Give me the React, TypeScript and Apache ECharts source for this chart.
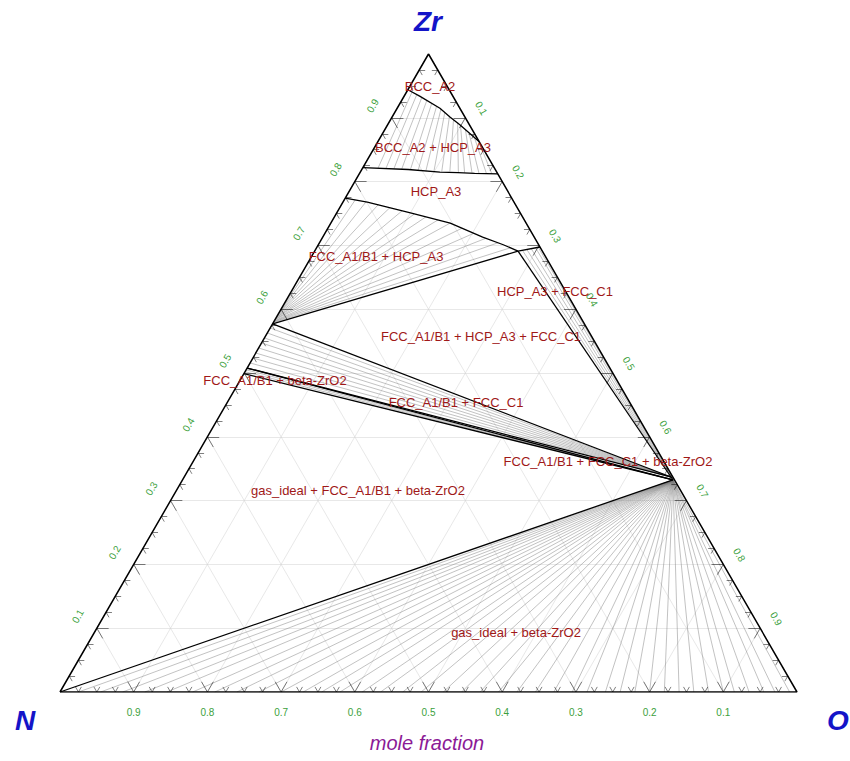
import React, { useEffect, useRef } from 'react';
import * as echarts from 'echarts';

// Ternary geometry: composition [x(O), x(Zr)] -> cartesian (N at origin, O at (1,0))
const SQ = Math.sqrt(3) / 2;
const toXY = (p: number[]): number[] => [p[0] + p[1] / 2, p[1] * SQ];

// Axis ticks (mole fraction)
const majorTicks = [0.1, 0.2, 0.3, 0.4, 0.5, 0.6, 0.7, 0.8, 0.9];
const tickLabels = ['0.1', '0.2', '0.3', '0.4', '0.5', '0.6', '0.7', '0.8', '0.9'];
const minorTickStep = 0.025;

// Phase boundaries, compositions [x(O), x(Zr)]
const bccBoundary = [
  [0, 0.944], [0.021, 0.934], [0.058, 0.915], [0.079, 0.901], [0.098, 0.889], [0.119, 0.875], [0.137, 0.863],
];
const hcpUpperBoundary = [
  [0, 0.822], [0.063, 0.819], [0.108, 0.815], [0.133, 0.814], [0.156, 0.813], [0.188, 0.812],
];
const hcpLowerBoundary = [
  [0, 0.774], [0.033, 0.768], [0.1, 0.751], [0.162, 0.735], [0.217, 0.713], [0.251, 0.701], [0.276, 0.691], [0.3025, 0.6975],
];

// Invariant corners
const fccA = [0, 0.577];        // FCC_A1/B1 in FCC + HCP + FCC_C1
const hcpH = [0.276, 0.691];    // HCP_A3 in FCC + HCP + FCC_C1
const fccC1 = [0.6605, 0.337];  // FCC_C1
const betaZrO2 = [0.6655, 0.3325];
const fccA2 = [0, 0.5078];      // FCC_A1/B1 in FCC + FCC_C1 + beta-ZrO2
const fccA3 = [0, 0.499];       // FCC_A1/B1 in gas + FCC + beta-ZrO2
const gasN = [0, 0];

// BCC_A2 + HCP_A3 tie lines
const bccHcpTieHcp = [
  [0.021, 0.821], [0.032, 0.82], [0.043, 0.82], [0.054, 0.819], [0.066, 0.819], [0.077, 0.818], [0.088, 0.817], [0.099, 0.817],
  [0.11, 0.816], [0.121, 0.816], [0.133, 0.815], [0.142, 0.814], [0.152, 0.814], [0.162, 0.813], [0.172, 0.813], [0.18, 0.812],
];
const bccHcpTieBcc = [
  [0.0075, 0.94], [0.016, 0.936], [0.025, 0.932], [0.034, 0.928], [0.043, 0.923], [0.052, 0.918], [0.06, 0.914], [0.068, 0.908],
  [0.077, 0.903], [0.085, 0.898], [0.093, 0.893], [0.1, 0.887], [0.109, 0.882], [0.117, 0.876], [0.127, 0.87], [0.134, 0.866],
];

// FCC_A1/B1 + HCP_A3 tie lines
const fccHcpTieFcc = [
  [0, 0.6], [0, 0.598], [0, 0.596], [0, 0.594], [0, 0.592], [0, 0.59], [0, 0.588],
  [0, 0.587], [0, 0.585], [0, 0.584], [0, 0.582], [0, 0.581], [0, 0.58], [0, 0.579],
];
const fccHcpTieHcp = [
  [0.015, 0.7715], [0.031, 0.768], [0.05, 0.764], [0.068, 0.759], [0.087, 0.754], [0.106, 0.749], [0.124, 0.7445],
  [0.143, 0.74], [0.162, 0.735], [0.182, 0.727], [0.202, 0.719], [0.222, 0.711], [0.242, 0.704], [0.2625, 0.696],
];

// HCP_A3 + FCC_C1 tie lines
const hcpC1TieHcp = [[0.2813, 0.6923], [0.2866, 0.6936], [0.2919, 0.6949], [0.2972, 0.6962], [0.3004, 0.697]];
const hcpC1TieC1 = [[0.6615, 0.3365], [0.6625, 0.336], [0.6635, 0.3355], [0.6645, 0.335], [0.6655, 0.3345]];

// FCC_A1/B1 + FCC_C1 tie lines
const fccC1TieFcc = [[0, 0.5705], [0, 0.5627], [0, 0.5549], [0, 0.547], [0, 0.5392], [0, 0.5313], [0, 0.5235], [0, 0.5157]];
const fccC1TieC1 = [
  [0.6606, 0.3369], [0.6608, 0.3368], [0.661, 0.3367], [0.6612, 0.3366], [0.6614, 0.3365], [0.6616, 0.3364], [0.6618, 0.3363], [0.662, 0.3362],
];

// FCC_A1/B1 + beta-ZrO2 tie lines
const fccBetaTieFcc = [[0, 0.505], [0, 0.502]];

// gas_ideal + beta-ZrO2 tie lines: gas compositions x(O) on the N-O edge
const gasBetaTieGasO = [
  0.025, 0.055, 0.085, 0.115, 0.145, 0.18, 0.21, 0.24, 0.27, 0.3, 0.33, 0.355, 0.38, 0.41, 0.435, 0.465, 0.49, 0.52, 0.545, 0.57,
  0.595, 0.62, 0.645, 0.67, 0.695, 0.715, 0.74, 0.76, 0.78, 0.8, 0.82, 0.84, 0.86, 0.88, 0.9, 0.915, 0.935, 0.955, 0.97, 0.99,
];

// Phase region labels
const phaseLabels = [
  'BCC_A2', 'BCC_A2 + HCP_A3', 'HCP_A3', 'FCC_A1/B1 + HCP_A3', 'HCP_A3 + FCC_C1', 'FCC_A1/B1 + HCP_A3 + FCC_C1',
  'FCC_A1/B1 + beta-ZrO2', 'FCC_A1/B1 + FCC_C1', 'FCC_A1/B1 + FCC_C1 + beta-ZrO2', 'gas_ideal + FCC_A1/B1 + beta-ZrO2',
  'gas_ideal + beta-ZrO2',
];
const phaseLabelPos = [
  [430, 86], [433, 147], [436, 191], [376, 256], [555, 291], [481, 336],
  [275, 380], [456, 402], [608, 461], [358, 490], [516, 632],
];

const seg = (a: number[], b: number[]) => ({ coords: [toXY(a), toXY(b)] });
const ties = (a: number[][], b: number[][]) => a.map((p, i) => seg(p, b[i]));

function buildGrid() {
  const out: any[] = [];
  majorTicks.forEach((v) => {
    out.push(seg([0, v], [1 - v, v]));     // constant Zr
    out.push(seg([v, 0], [v, 1 - v]));     // constant O
    out.push(seg([1 - v, 0], [0, 1 - v])); // constant N
  });
  return out;
}

function buildTicks() {
  const out: any[] = [];
  for (let k = 1; k < 40; k++) {
    const t = k * minorTickStep;
    const L = k % 4 === 0 ? 0.016 : 0.008;
    out.push(seg([t, 0], [t, L]), seg([t, 0], [t - L, L]));
    out.push(seg([0, t], [L, t]), seg([0, t], [L, t - L]));
    out.push(seg([1 - t, t], [1 - t - L, t]), seg([1 - t, t], [1 - t, t - L]));
  }
  return out;
}

const tieStyle = { color: '#777777', width: 0.9 };
const tieSeries = (data: any[]) => ({
  type: 'lines', coordinateSystem: 'cartesian2d', silent: true, z: 2, lineStyle: tieStyle, data,
});
const boundary = (pts: number[][], width = 1.3) => ({
  type: 'line', data: pts.map(toXY), showSymbol: false, symbol: 'none', silent: true, z: 3,
  lineStyle: { color: '#000', width },
});

export default function App() {
  const ref = useRef<HTMLDivElement>(null);
  useEffect(() => {
    if (!ref.current) return;
    const chart = echarts.init(ref.current, null, { renderer: 'svg' });
    const option: any = {
      animation: false,
      backgroundColor: '#fff',
      grid: { left: 60, top: 54, width: 737, height: 638 },
      xAxis: { type: 'value', min: 0, max: 1, show: false },
      yAxis: { type: 'value', min: 0, max: SQ, show: false },
      series: [
        { type: 'lines', coordinateSystem: 'cartesian2d', silent: true, z: 1, lineStyle: { color: '#d2d2d2', width: 1 }, data: buildGrid() },
        tieSeries(ties(bccHcpTieHcp, bccHcpTieBcc)),
        tieSeries(ties(fccHcpTieFcc, fccHcpTieHcp)),
        tieSeries(ties(hcpC1TieHcp, hcpC1TieC1)),
        tieSeries(ties(fccC1TieFcc, fccC1TieC1)),
        tieSeries(fccBetaTieFcc.map((p) => seg(p, betaZrO2))),
        tieSeries(gasBetaTieGasO.map((o) => seg([o, 0], betaZrO2))),
        boundary(bccBoundary),
        boundary(hcpUpperBoundary),
        boundary(hcpLowerBoundary),
        boundary([fccA, hcpH]),
        boundary([hcpH, fccC1]),
        boundary([fccA, fccC1]),
        boundary([fccA2, fccC1]),
        boundary([fccA2, betaZrO2]),
        boundary([fccC1, betaZrO2]),
        boundary([fccA3, betaZrO2]),
        boundary([gasN, betaZrO2]),
        boundary([[0, 0], [1, 0], [0, 1], [0, 0]], 1.5),
        { type: 'lines', coordinateSystem: 'cartesian2d', silent: true, z: 4, lineStyle: { color: '#000', width: 1 }, data: buildTicks() },
      ],
    };
    chart.setOption(option);

    const px = (p: number[]) => chart.convertToPixel({ gridIndex: 0 }, toXY(p)) as number[];
    const green = '#3c9f3c';
    const tickFont = '10px Arial, "Liberation Sans", sans-serif';
    const graphics: any[] = [];
    majorTicks.forEach((v, i) => {
      const b = px([1 - v, 0]);
      graphics.push({ type: 'text', x: b[0], y: b[1] + 20, style: { text: tickLabels[i], fill: green, font: tickFont, align: 'center', verticalAlign: 'middle' } });
      const l = px([0, v]);
      graphics.push({ type: 'text', x: l[0] - 19, y: l[1] - 12, rotation: Math.PI / 3, style: { text: tickLabels[i], fill: green, font: tickFont, align: 'center', verticalAlign: 'middle' } });
      const r = px([v, 1 - v]);
      graphics.push({ type: 'text', x: r[0] + 16, y: r[1] - 9.5, rotation: -Math.PI / 3, style: { text: tickLabels[i], fill: green, font: tickFont, align: 'center', verticalAlign: 'middle' } });
    });
    phaseLabels.forEach((t, i) => {
      graphics.push({ type: 'text', x: phaseLabelPos[i][0], y: phaseLabelPos[i][1], z: 10, style: { text: t, fill: '#a01818', font: '13px Arial, "Liberation Sans", sans-serif', align: 'center', verticalAlign: 'middle' } });
    });
    const title = (text: string, x: number, y: number) => ({
      type: 'text', x, y, style: { text, fill: '#1414c8', font: 'italic bold 28px Arial, "Liberation Sans", sans-serif', align: 'center', verticalAlign: 'middle' },
    });
    graphics.push(title('Zr', 428, 21), title('N', 25, 720), title('O', 838, 720));
    graphics.push({ type: 'text', x: 427, y: 743, style: { text: 'mole fraction', fill: '#8b1a96', font: 'italic 20px Arial, "Liberation Sans", sans-serif', align: 'center', verticalAlign: 'middle' } });
    chart.setOption({ graphic: graphics });

    return () => chart.dispose();
  }, []);
  return <div ref={ref} style={{ position: 'absolute', left: 0, top: 0, width: 850, height: 761 }} />;
}
